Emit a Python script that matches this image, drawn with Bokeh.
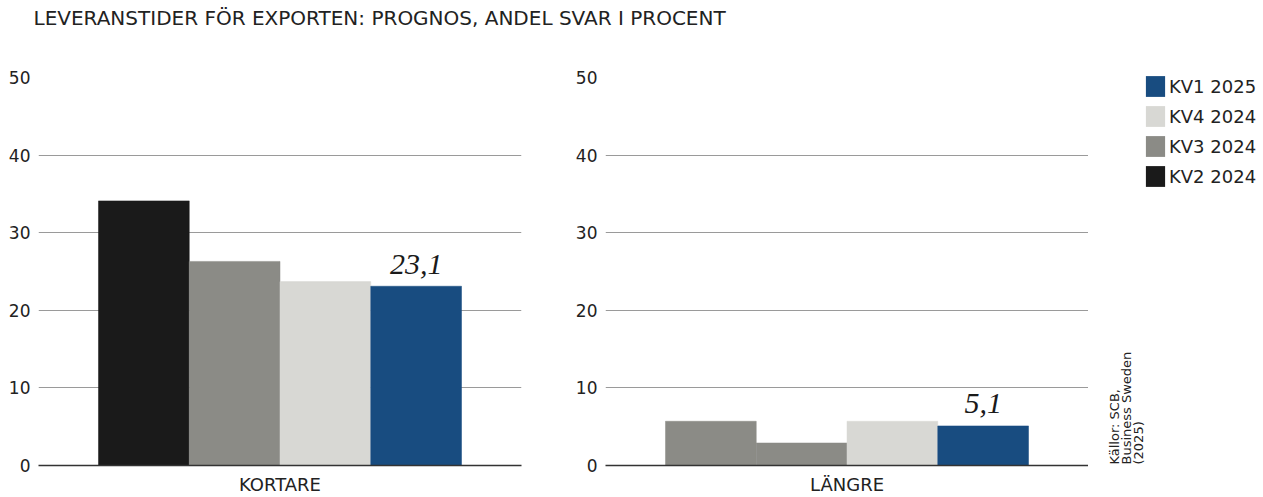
import math
from bokeh.plotting import figure
from bokeh.models import (FactorRange, Range1d, Legend, LegendItem, Label,
                          ColumnDataSource, FixedTicker)
from bokeh.layouts import column, row
from bokeh.transform import dodge
from bokeh.embed import file_html
from bokeh.resources import INLINE
from bokeh.core.properties import value

# ---------------- data ----------------
title_text = "LEVERANSTIDER FÖR EXPORTEN: PROGNOS, ANDEL SVAR I PROCENT"
source_lines = ["Källor: SCB,", "Business Sweden", "(2025)"]
panels = ["KORTARE", "LÄNGRE"]
series = ["KV2 2024", "KV3 2024", "KV4 2024", "KV1 2025"]
kv2_2024 = [34.1, 5.7]
kv3_2024 = [26.3, 2.9]
kv4_2024 = [23.7, 5.7]
kv1_2025 = [23.1, 5.1]
y_ticks = [0, 10, 20, 30, 40, 50]
legend_order = ["KV1 2025", "KV4 2024", "KV3 2024", "KV2 2024"]
labelled_series = "KV1 2025"

values = {"KV2 2024": kv2_2024, "KV3 2024": kv3_2024,
          "KV4 2024": kv4_2024, "KV1 2025": kv1_2025}

# ---------------- styles ----------------
colors = {"KV2 2024": "#1a1a1a", "KV3 2024": "#8b8b86",
          "KV4 2024": "#d8d8d4", "KV1 2025": "#184c80"}
# colours as they appear in each panel of the original
bar_colors = {"KV2 2024": ["#1a1a1a", "#8b8b86"],
              "KV3 2024": ["#8b8b86", "#8b8b86"],
              "KV4 2024": ["#d8d8d4", "#d8d8d4"],
              "KV1 2025": ["#184c80", "#184c80"]}
FONT = "DejaVu Sans"
TXT = "#222222"
BW = 0.1879
offsets = [-1.5 * BW, -0.5 * BW, 0.5 * BW, 1.5 * BW]
FRAME_W, FRAME_H = 483, 388
TOP, BOTTOM = 37, 30
label_offsets = [-12, -13]


def make_panel(i, left_border, right_border):
    p = figure(x_range=FactorRange(factors=[panels[i]], range_padding=0),
               y_range=Range1d(0, 50),
               frame_width=FRAME_W, frame_height=FRAME_H,
               min_border_left=left_border, min_border_right=right_border,
               min_border_top=TOP, min_border_bottom=BOTTOM,
               output_backend="svg", toolbar_location=None,
               outline_line_color=None)
    for k, s in enumerate(series):
        src = ColumnDataSource(dict(x=[panels[i]], top=[values[s][i]],
                                    color=[bar_colors[s][i]]))
        p.vbar(x=dodge("x", offsets[k], range=p.x_range), top="top", bottom=0,
               width=BW, fill_color="color", line_color="color", line_width=0.5,
               source=src)
        if s == labelled_series:
            lsrc = ColumnDataSource(dict(
                x=[panels[i]], y=[values[s][i]],
                t=[f"{values[s][i]:.1f}".replace(".", ",")]))
            p.text(x=dodge("x", offsets[k], range=p.x_range), y="y", text="t",
                   source=lsrc, text_font=value("Liberation Serif"),
                   text_font_style="italic", text_font_size="30px",
                   text_align="center", text_baseline="bottom",
                   y_offset=label_offsets[i], text_color="#1a1a1a")
    p.xgrid.grid_line_color = None
    p.ygrid.ticker = FixedTicker(ticks=y_ticks)
    p.ygrid.grid_line_color = "#9a9a9a"
    p.ygrid.grid_line_width = 1
    p.yaxis.ticker = FixedTicker(ticks=y_ticks)
    p.yaxis.axis_line_color = None
    p.yaxis.major_tick_line_color = None
    p.yaxis.minor_tick_line_color = None
    p.yaxis.major_tick_out = 0
    p.yaxis.major_tick_in = 0
    p.yaxis.minor_tick_out = 0
    p.yaxis.major_label_text_font = FONT
    p.yaxis.major_label_text_font_size = "17px"
    p.yaxis.major_label_text_color = TXT
    p.yaxis.major_label_standoff = 8
    p.xaxis.axis_line_color = "#333333"
    p.xaxis.axis_line_width = 1.5
    p.xaxis.major_tick_line_color = None
    p.xaxis.minor_tick_line_color = None
    p.xaxis.major_tick_out = 0
    p.xaxis.major_tick_in = 0
    p.xaxis.minor_tick_out = 0
    p.xaxis.major_label_text_font = FONT
    p.xaxis.major_label_text_font_size = "18px"
    p.xaxis.major_label_text_color = TXT
    p.xaxis.major_label_standoff = 8
    return p


p1 = make_panel(0, 38, 51)
p2 = make_panel(1, 33, 0)

# side panel: source text + legend (pixel-unit ranges, origin bottom-left)
SIDE_W, SIDE_H = 175, 497
ps = figure(x_range=Range1d(0, SIDE_W), y_range=Range1d(0, SIDE_H),
            width=SIDE_W, height=SIDE_H, min_border=0,
            x_axis_type=None, y_axis_type=None,
            output_backend="svg", toolbar_location=None,
            outline_line_color=None)
ps.xgrid.grid_line_color = None
ps.ygrid.grid_line_color = None
for j, line in enumerate(source_lines):
    ps.add_layout(Label(x=25.5 + 12.3 * j, y=33, text=line, angle=math.pi / 2,
                        text_align="left", text_baseline="middle",
                        text_font=FONT, text_font_size="13px", text_color=TXT))
rmap = {}
for s in series:
    rmap[s] = ps.vbar(x=[-1000], top=[0], bottom=0, width=1,
                      fill_color=colors[s], line_color=None)
legend = Legend(items=[LegendItem(label=s, renderers=[rmap[s]]) for s in legend_order],
                location=(55, 308), margin=0, padding=0, spacing=4,
                glyph_width=24, glyph_height=26, label_standoff=2,
                label_height=26, label_text_font=FONT,
                label_text_font_size="18px", label_text_color=TXT,
                border_line_color=None, background_fill_alpha=0)
ps.add_layout(legend)

# title strip
pt = figure(width=1088, height=40, x_range=Range1d(0, 1088), y_range=Range1d(0, 40),
            min_border=0, x_axis_type=None, y_axis_type=None,
            output_backend="svg", toolbar_location=None, outline_line_color=None)
pt.xgrid.grid_line_color = None
pt.ygrid.grid_line_color = None
pt.add_layout(Label(x=33, y=22.5, text=title_text, text_baseline="middle",
                    text_align="left", text_font=FONT, text_font_size="20px",
                    text_color=TXT))

layout = row(column(pt, row(p1, p2)), ps)
open("out.html", "w").write(file_html(layout, INLINE))
